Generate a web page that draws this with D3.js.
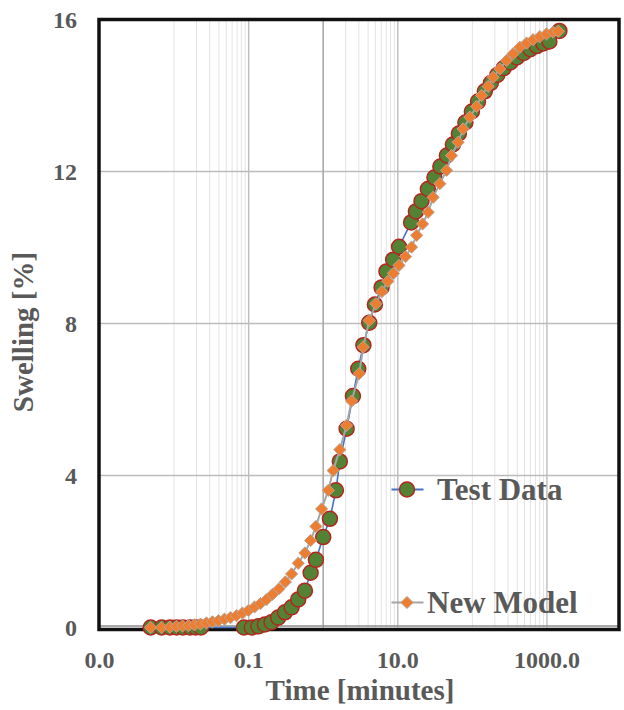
<!DOCTYPE html>
<html>
<head>
<meta charset="utf-8">
<script src="https://cdn.jsdelivr.net/npm/d3@7"></script>
<style>
  html, body { margin: 0; padding: 0; background: #fff; }
  svg { display: block; }
  text { font-family: "Liberation Serif", "Times New Roman", serif; font-weight: bold; fill: #595959; }
</style>
</head>
<body>
<svg id="chart" width="624" height="710"></svg>
<script>
// Measured swelling test (time in minutes, swelling in %)
const testTime = [0.00486, 0.00682, 0.00881, 0.0108, 0.0131, 0.0164, 0.0194, 0.0229,
  0.0865, 0.110, 0.135, 0.165, 0.203, 0.249, 0.307, 0.377, 0.462, 0.568, 0.678,
  0.798, 1.00, 1.23, 1.48, 1.67, 2.06, 2.50, 2.95, 3.46, 4.14, 4.93, 6.06, 7.04, 8.68,
  10.4, 15.1, 17.5, 20.8, 25.3, 31.0, 37.2, 45.5, 54.8, 65.9, 80.6, 98.5, 119, 147, 177,
  216, 264, 323, 395, 490, 599, 732, 895, 1080, 1470];
const testSwelling = [0, 0, 0, 0, 0, 0, 0, 0,
  0, 0, 0.03, 0.08, 0.14, 0.26, 0.40, 0.53, 0.74, 0.97, 1.44,
  1.78, 2.38, 2.86, 3.61, 4.37, 5.23, 6.09, 6.81, 7.43, 8.02, 8.50, 8.95, 9.37, 9.68,
  10.02, 10.66, 10.95, 11.22, 11.54, 11.84, 12.13, 12.42, 12.71, 13.0, 13.29, 13.58, 13.84, 14.11, 14.33,
  14.54, 14.72, 14.87, 15.0, 15.12, 15.22, 15.30, 15.37, 15.42, 15.70];

// Model prediction
const modelTime = [0.00486, 0.00682, 0.00881, 0.0108, 0.0130, 0.0156, 0.0188, 0.0226,
  0.0272, 0.0327, 0.0394, 0.0474, 0.0570, 0.0686, 0.0826, 0.0994, 0.120, 0.144, 0.173,
  0.208, 0.255, 0.311, 0.377, 0.462, 0.568, 0.678, 0.798, 0.952, 1.17, 1.36, 1.67, 2.06,
  2.40, 3.04, 3.44, 4.14, 5.09, 6.12, 7.37, 8.73, 10.4, 12.7, 15.3, 17.9, 21.5, 25.6,
  29.8, 36.7, 45.1, 52.6, 64.5, 75.3, 92.6, 114, 133, 163, 190, 234, 287, 352, 433, 533,
  653, 803, 988, 1210, 1420];
const modelSwelling = [0.0, 0.0, 0.01, 0.03, 0.04, 0.05, 0.07, 0.09,
  0.12, 0.15, 0.18, 0.22, 0.26, 0.31, 0.38, 0.45, 0.54, 0.63, 0.73,
  0.87, 1.02, 1.20, 1.41, 1.69, 1.96, 2.29, 2.66, 3.12, 3.61, 4.13, 4.68, 5.32,
  5.96, 6.68, 7.38, 8.08, 8.52, 8.84, 9.11, 9.32, 9.53, 9.76, 10.01, 10.32, 10.62, 10.93,
  11.32, 11.68, 12.03, 12.42, 12.77, 13.12, 13.43, 13.71, 14.0, 14.24, 14.48, 14.70, 14.92, 15.10, 15.27, 15.38,
  15.47, 15.55, 15.62, 15.67, 15.69];

// Axis ticks
const xMajorTicks = [0.001, 0.1, 10, 1000];
const xTickLabels = ["0.0", "0.1", "10.0", "1000.0"];
const xMinorBases = [0.01, 1, 100];
const yTicks = [0, 4, 8, 12, 16];

const seriesNames = ["Test Data", "New Model"];

const svg = d3.select("#chart");
const plot = { left: 99, right: 619, top: 19.5, bottom: 629.5 };

const x = d3.scaleLog().domain([0.001, 10000]).range([99.5, 621.5]);
const y = d3.scaleLinear().domain([0, 16]).range([627.5, 19.5]);

const grid = svg.append("g");

// minor vertical gridlines
const minorVals = [];
xMinorBases.forEach(b => { for (let k = 1; k <= 9; k++) minorVals.push(b * k); });
grid.selectAll("line.minor").data(minorVals).enter().append("line")
  .attr("x1", d => x(d)).attr("x2", d => x(d))
  .attr("y1", plot.top).attr("y2", y(0))
  .attr("stroke", "#e3e3e3").attr("stroke-width", 1);

// major vertical gridlines
grid.selectAll("line.major").data(xMajorTicks.slice(1)).enter().append("line")
  .attr("x1", d => x(d)).attr("x2", d => x(d))
  .attr("y1", plot.top).attr("y2", y(0))
  .attr("stroke", "#bcbcbc").attr("stroke-width", 1.4);

// horizontal gridlines
grid.selectAll("line.h").data(yTicks.slice(1, -1)).enter().append("line")
  .attr("x1", plot.left).attr("x2", plot.right)
  .attr("y1", d => y(d)).attr("y2", d => y(d))
  .attr("stroke", "#bcbcbc").attr("stroke-width", 1.4);

// value axis line crossing at time = 1
grid.append("line")
  .attr("x1", x(1)).attr("x2", x(1))
  .attr("y1", plot.top).attr("y2", y(0))
  .attr("stroke", "#a6a6a6").attr("stroke-width", 1.5);

// category axis line at swelling = 0
grid.append("line")
  .attr("x1", plot.left).attr("x2", plot.right)
  .attr("y1", y(0) - 1.5).attr("y2", y(0) - 1.5)
  .attr("stroke", "#8c8c8c").attr("stroke-width", 1.5);

// plot frame
svg.append("rect")
  .attr("x", plot.left).attr("y", plot.top)
  .attr("width", plot.right - plot.left).attr("height", plot.bottom - plot.top)
  .attr("fill", "none").attr("stroke", "#111").attr("stroke-width", 3.5);

// tick labels
svg.append("g").selectAll("text").data(xMajorTicks).enter().append("text")
  .attr("x", d => x(d)).attr("y", 668)
  .attr("text-anchor", "middle").attr("font-size", 24)
  .text((d, i) => xTickLabels[i]);

svg.append("g").selectAll("text").data(yTicks).enter().append("text")
  .attr("x", 77).attr("y", d => y(d) + 8)
  .attr("text-anchor", "end").attr("font-size", 24)
  .text(d => d);

// axis titles
svg.append("text")
  .attr("x", 360).attr("y", 700)
  .attr("text-anchor", "middle").attr("font-size", 29)
  .text("Time [minutes]");

svg.append("text")
  .attr("transform", "translate(33,332) rotate(-90)")
  .attr("text-anchor", "middle").attr("font-size", 29)
  .text("Swelling [%]");

const testData = testTime.map((t, i) => [t, testSwelling[i]]);
const modelData = modelTime.map((t, i) => [t, modelSwelling[i]]);
const line = d3.line().x(d => x(d[0])).y(d => y(d[1]));

const greenFill = "#548235", greenStroke = "#b3261e";
const orangeFill = "#ed7d31", orangeStroke = "#b9a595";
const diamond = d3.symbol().type(d3.symbolDiamond2).size(95);

// Test Data series
svg.append("path").datum(testData).attr("d", line)
  .attr("fill", "none").attr("stroke", "#4472c4").attr("stroke-width", 1.6);
svg.append("g").selectAll("circle").data(testData).enter().append("circle")
  .attr("cx", d => x(d[0])).attr("cy", d => y(d[1])).attr("r", 7.5)
  .attr("fill", greenFill).attr("stroke", greenStroke).attr("stroke-width", 1.5);

// New Model series
svg.append("path").datum(modelData).attr("d", line)
  .attr("fill", "none").attr("stroke", "#a5a5a5").attr("stroke-width", 2);
svg.append("g").selectAll("path").data(modelData).enter().append("path")
  .attr("transform", d => `translate(${x(d[0])},${y(d[1])})`)
  .attr("d", diamond)
  .attr("fill", orangeFill).attr("stroke", orangeStroke).attr("stroke-width", 1);

// legend
const legend = svg.append("g");
const lg = [
  { name: seriesNames[0], cy: 489.5, tx: 437, ty: 499.5, color: "#4472c4" },
  { name: seriesNames[1], cy: 602.5, tx: 427, ty: 612.5, color: "#a5a5a5" }
];
lg.forEach((d, i) => {
  legend.append("line").attr("x1", 391.5).attr("x2", 423.5)
    .attr("y1", d.cy).attr("y2", d.cy).attr("stroke", d.color).attr("stroke-width", 2);
  if (i === 0) {
    legend.append("circle").attr("cx", 407).attr("cy", d.cy).attr("r", 7.5)
      .attr("fill", greenFill).attr("stroke", greenStroke).attr("stroke-width", 1.5);
  } else {
    legend.append("path").attr("transform", `translate(407,${d.cy})`).attr("d", diamond)
      .attr("fill", orangeFill).attr("stroke", orangeStroke).attr("stroke-width", 1);
  }
  legend.append("text").attr("x", d.tx).attr("y", d.ty).attr("font-size", 31).text(d.name);
});
</script>
</body>
</html>
